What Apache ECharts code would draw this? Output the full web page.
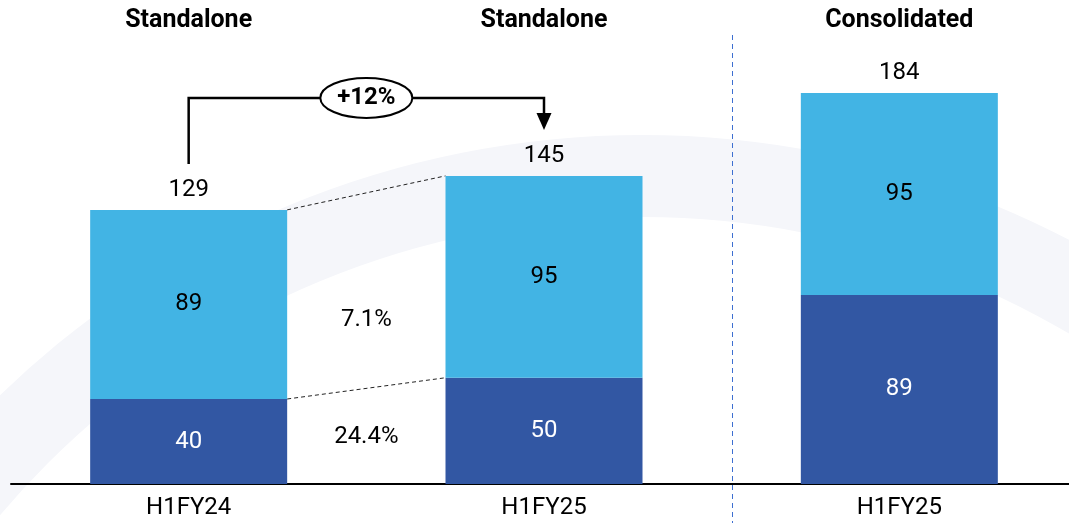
<!DOCTYPE html>
<html>
<head>
<meta charset="utf-8">
<script src="https://cdn.jsdelivr.net/npm/echarts@6/dist/echarts.min.js"></script>
<style>
html, body { margin: 0; padding: 0; background: #fff; }
#chart { width: 1069px; height: 523px; }
</style>
</head>
<body>
<div id="chart"></div>
<script>
var categories = ['H1FY24', 'H1FY25', 'H1FY25'];
var headers = ['Standalone', 'Standalone', 'Consolidated'];
var lowerVals = [40, 50, 89];
var upperVals = [89, 95, 95];
var totals = [129, 145, 184];
var upperGrowth = '7.1%';
var lowerGrowth = '24.4%';
var totalGrowth = '+12%';

var font = 'Roboto';
var darkBlue = '#3257a3';
var lightBlue = '#42b4e4';
var barW = 197;

var chart = echarts.init(document.getElementById('chart'));

chart.setOption({
  animation: false,
  grid: { left: 11, top: 59, width: 1066, bottom: 39, outerBoundsMode: 'none' },
  xAxis: [{
    type: 'category',
    data: categories,
    position: 'bottom',
    axisLine: { lineStyle: { color: '#000', width: 2 } },
    axisTick: { show: false },
    axisLabel: { color: '#000', fontSize: 24, fontFamily: font, margin: 12 }
  }, {
    type: 'category',
    data: headers,
    position: 'top',
    axisLine: { show: false },
    axisTick: { show: false },
    axisLabel: { color: '#000', fontSize: 25, fontWeight: 'bold', fontFamily: font, margin: 26 }
  }],
  yAxis: { type: 'value', min: 0, max: 200, show: false },
  series: [{
    name: 'lower',
    type: 'bar',
    stack: 'a',
    data: lowerVals,
    barWidth: barW,
    itemStyle: { color: darkBlue },
    label: { show: true, position: 'inside', color: '#fff', fontSize: 24, fontFamily: font }
  }, {
    name: 'upper',
    type: 'bar',
    stack: 'a',
    data: upperVals,
    barWidth: barW,
    itemStyle: { color: lightBlue },
    label: { show: true, position: 'inside', color: '#000', fontSize: 24, fontFamily: font }
  }, {
    name: 'total',
    type: 'bar',
    data: totals,
    barWidth: barW,
    barGap: '-100%',
    silent: true,
    itemStyle: { color: 'transparent' },
    label: { show: true, position: 'top', distance: 8, color: '#000', fontSize: 24, fontFamily: font }
  }]
});

// annotations placed from the chart's own scale
function px(i, v) {
  return chart.convertToPixel({ gridIndex: 0 }, [i, v]);
}
var half = barW / 2;
var t0 = px(0, totals[0]), t1 = px(1, totals[1]);
var l0 = px(0, lowerVals[0]), l1 = px(1, lowerVals[1]);
var c2 = px(2, 0);
var xm = (t0[0] + t1[0]) / 2;
var sepX = Math.round((t1[0] + c2[0]) / 2 + 10) + 0.5;
var yh = Math.min(t0[1], t1[1]) - 78;
var tip = t1[1] - 46;

chart.setOption({
  graphic: [{
    type: 'ring', z: -1, silent: true,
    shape: { cx: 642, cy: 1057, r: 922, r0: 840 },
    style: { fill: '#f5f6fa' }
  }, {
    type: 'line', silent: true,
    shape: { x1: sepX, y1: 35, x2: sepX, y2: 523 },
    style: { stroke: '#3d6fd1', lineWidth: 1, lineDash: [5, 4] }
  }, {
    type: 'line', silent: true,
    shape: { x1: t0[0] + half, y1: t0[1], x2: t1[0] - half, y2: t1[1] },
    style: { stroke: '#222', lineWidth: 1, lineDash: [4, 3] }
  }, {
    type: 'line', silent: true,
    shape: { x1: l0[0] + half, y1: l0[1], x2: l1[0] - half, y2: l1[1] },
    style: { stroke: '#222', lineWidth: 1, lineDash: [4, 3] }
  }, {
    type: 'text', silent: true,
    x: xm, y: px(0, 77)[1],
    style: { text: upperGrowth, fontSize: 24, fontFamily: font, fill: '#000', align: 'center', verticalAlign: 'middle' }
  }, {
    type: 'text', silent: true,
    x: xm, y: px(0, 22)[1],
    style: { text: lowerGrowth, fontSize: 24, fontFamily: font, fill: '#000', align: 'center', verticalAlign: 'middle' }
  }, {
    type: 'polyline', silent: true,
    shape: { points: [[t0[0], t0[1] - 46], [t0[0], yh], [t1[0], yh], [t1[0], tip - 17]] },
    style: { stroke: '#000', lineWidth: 2.5, fill: null }
  }, {
    type: 'polygon', silent: true,
    shape: { points: [[t1[0] - 7.5, tip - 17], [t1[0] + 7.5, tip - 17], [t1[0], tip]] },
    style: { fill: '#000' }
  }, {
    type: 'ellipse', silent: true,
    shape: { cx: xm, cy: yh, rx: 46, ry: 20 },
    style: { fill: '#fff', stroke: '#000', lineWidth: 2 }
  }, {
    type: 'text', silent: true,
    x: xm, y: yh,
    style: { text: totalGrowth, fontSize: 24, fontWeight: 'bold', fontFamily: font, fill: '#000', align: 'center', verticalAlign: 'middle' }
  }]
});
</script>
</body>
</html>
